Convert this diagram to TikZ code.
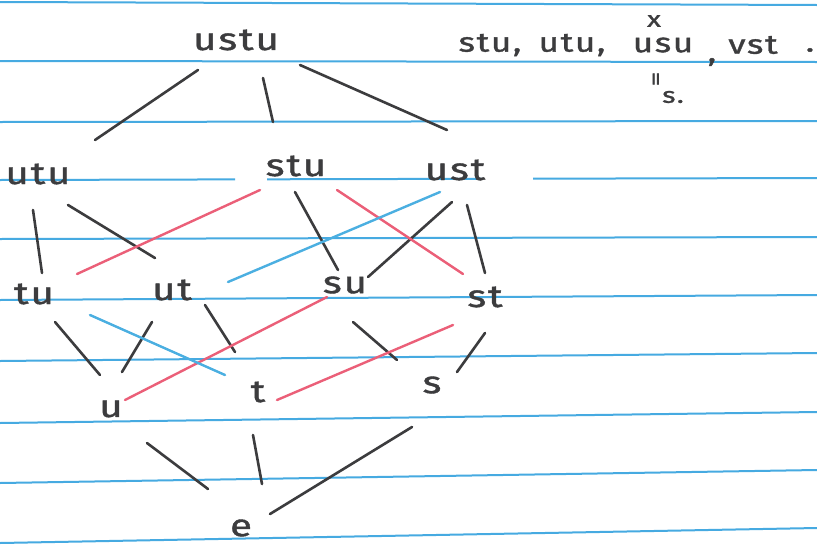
\documentclass[tikz,border=0pt]{standalone}
\usepackage{fontspec}
\newfontfamily\hand[FakeStretch=1.3,LetterSpace=6,FakeBold=1.3]{Fira Sans}
\usetikzlibrary{calc}
\definecolor{rule}{RGB}{70,170,225}
\definecolor{ink}{RGB}{60,60,62}
\definecolor{pink}{RGB}{235,95,120}
\definecolor{cyanpen}{RGB}{75,175,225}
\tikzset{
  lbl/.style={inner sep=0pt, text=ink, font=\hand\fontsize{31}{34}\selectfont},
  small/.style={inner sep=0pt, text=ink, font=\hand\fontsize{27}{30}\selectfont},
  tiny/.style={inner sep=0pt, text=ink, font=\hand\fontsize{22}{24}\selectfont},
  ruled/.style={draw=rule, line width=2pt},
  pen/.style={draw=ink, line width=2.6pt, line cap=round},
  redpen/.style={draw=pink, line width=2.4pt, line cap=round},
  bluepen/.style={draw=cyanpen, line width=2.4pt, line cap=round}
}
\begin{document}
\begin{tikzpicture}[x=1pt,y=-1pt]
\useasboundingbox (0,0) rectangle (817,544);
\fill[white] (0,0) rectangle (817,544);
% ruled paper
\foreach \yl/\yr in {2/5,61/62,122/121,239/237,300/295,361/353,423/412,483/470,543/528}{
  \draw[ruled] (0,\yl) -- (817,\yr);
}
\draw[ruled] (0,180) -- (235,179.4);
\draw[ruled] (267,179.3) -- (482,178.8);
\draw[ruled] (533,178.7) -- (817,178);

% nodes
\node[lbl] (ustu) at (236,40) {ustu};
\node[lbl] (utu) at (38,174) {utu};
\node[lbl] (stu) at (296,166) {stu};
\node[lbl] (ust) at (455,170) {ust};
\node[lbl] (tu) at (34,294) {tu};
\node[lbl] (ut) at (172,290) {ut};
\node[lbl] (su) at (345,285) {su};
\node[lbl] (st) at (485,297) {st};
\node[lbl] (u) at (111,409) {u};
\node[lbl] (t) at (258,392) {t};
\node[lbl] (s) at (432,385) {s};
\node[lbl] (e) at (241,528) {e};

% black edges
\draw[pen] ($(ustu)+(-38,30)$) -- ($(utu)+(57,-34)$);
\draw[pen] ($(ustu)+(27,38)$) -- ($(stu)+(-23,-44)$);
\draw[pen] ($(ustu)+(64,25)$) -- ($(ust)+(-8,-40)$);
\draw[pen] ($(utu)+(-5,36)$) -- ($(tu)+(8,-21)$);
\draw[pen] ($(utu)+(30,31)$) -- ($(ut)+(-17,-32)$);
\draw[pen] ($(stu)+(-1,26)$) -- ($(su)+(-7,-15)$);
\draw[pen] ($(ust)+(-3,32)$) -- ($(su)+(23,-8)$);
\draw[pen] ($(ust)+(12,35)$) -- ($(st)+(0,-24)$);
\draw[pen] ($(tu)+(21,28)$) -- ($(u)+(-11,-34)$);
\draw[pen] ($(ut)+(-20,32)$) -- ($(u)+(11,-37)$);
\draw[pen] ($(ut)+(33,15)$) -- ($(t)+(-23,-40)$);
\draw[pen] ($(su)+(8,37)$) -- ($(s)+(-35,-25)$);
\draw[pen] ($(st)+(0,36)$) -- ($(s)+(25,-13)$);
\draw[pen] ($(u)+(36,34)$) -- ($(e)+(-33,-39)$);
\draw[pen] ($(t)+(-5,43)$) -- ($(e)+(21,-44)$);
\draw[pen] ($(s)+(-20,42)$) -- ($(e)+(29,-14)$);

% red edges
\draw[redpen] ($(stu)+(-36,24)$) -- ($(tu)+(43,-20)$);
\draw[redpen] ($(stu)+(41,24)$) -- ($(st)+(-22,-23)$);
\draw[redpen] ($(su)+(-18,12)$) -- ($(u)+(14,-9)$);
\draw[redpen] ($(st)+(-32,28)$) -- ($(t)+(19,8)$);

% blue edges
\draw[bluepen] ($(ust)+(-15,22)$) -- ($(ut)+(56,-8)$);
\draw[bluepen] ($(tu)+(56,21)$) -- ($(t)+(-33,-17)$);

% top right note
\node[small] (w1) at (490,45) {stu,};
\node[small] (w2) at (572,45) {utu,};
\node[small] (w3) at (663,45) {usu};
\node[small] (w4) at (712,62) {,};
\node[small] (w5) at (753,45) {vst};
\node[small] (w6) at (810,50) {.};
\node[tiny] (x) at (654,21) {x};
\node[tiny, rotate=90] (eq) at (658,79) {=};
\node[tiny] (s2) at (673,97) {s.};
\end{tikzpicture}
\end{document}
